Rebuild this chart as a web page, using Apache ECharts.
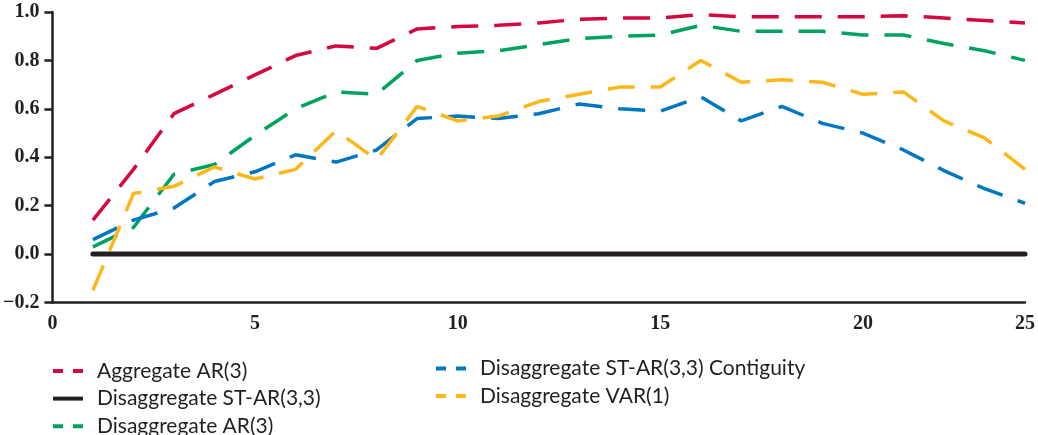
<!DOCTYPE html>
<html><head><meta charset="utf-8">
<script src="https://cdn.jsdelivr.net/npm/echarts@6/dist/echarts.min.js"></script>
<style>html,body{margin:0;padding:0;background:#fff}#c{width:1038px;height:435px}</style>
</head><body><div id="c"></div>
<script>
const steps = [1,2,3,4,5,6,7,8,9,10,11,12,13,14,15,16,17,18,19,20,21,22,23,24];
const aggregateAR3 = [0.14,0.35,0.58,0.66,0.74,0.82,0.86,0.85,0.93,0.94,0.945,0.955,0.97,0.975,0.975,0.99,0.98,0.98,0.98,0.98,0.985,0.975,0.965,0.955];
const disaggSTAR33 = [0,0,0,0,0,0,0,0,0,0,0,0,0,0,0,0,0,0,0,0,0,0,0,0];
const disaggAR3 = [0.03,0.11,0.33,0.37,0.49,0.60,0.67,0.66,0.80,0.83,0.84,0.865,0.89,0.90,0.905,0.945,0.92,0.92,0.92,0.905,0.905,0.87,0.84,0.80];
const disaggContig = [0.06,0.14,0.19,0.30,0.34,0.41,0.38,0.43,0.56,0.57,0.56,0.58,0.62,0.60,0.59,0.65,0.55,0.61,0.54,0.50,0.43,0.345,0.27,0.21];
const disaggVAR1 = [-0.15,0.25,0.28,0.36,0.31,0.35,0.51,0.39,0.61,0.55,0.57,0.63,0.66,0.69,0.69,0.80,0.71,0.72,0.71,0.66,0.67,0.55,0.48,0.35];
const seriesNames = ['Aggregate AR(3)','Disaggregate ST-AR(3,3)','Disaggregate AR(3)','Disaggregate ST-AR(3,3) Contiguity','Disaggregate VAR(1)'];
const xTickValues = [0,5,10,15,20,24];
const xTickLabels = ['0','5','10','15','20','25'];
const yTickLabels = ['\u22120.2','0.0','0.2','0.4','0.6','0.8','1.0'];

const colors = ['#D5073F','#231F20','#00A35E','#0078C1','#FDB719'];
const pairs = arr => steps.map((s,i)=>[s, arr[i]]);
const seriesData = [aggregateAR3, disaggSTAR33, disaggAR3, disaggContig, disaggVAR1];
const dash = [27,16];

const series = seriesData.map((arr,i)=>({
  name: seriesNames[i],
  type: 'line',
  data: pairs(arr),
  symbol: 'none',
  silent: true,
  z: i===1 ? 3 : 2,
  lineStyle: i===1
    ? {color: colors[i], width: 5, type: 'solid', cap: 'round'}
    : {color: colors[i], width: 3.5, type: dash, cap: 'butt'},
  itemStyle: {color: colors[i]}
}));

const dashIcon = 'path://M0 0H10V4H0ZM20 0H30V4H20Z';
const legendItem = i => ({
  name: seriesNames[i],
  icon: i===1 ? 'rect' : dashIcon
});
const legendText = {fontFamily: 'Lato', fontSize: 21, color: '#231F20', lineHeight: 20, padding: [0,0,0,9]};

const chart = echarts.init(document.getElementById('c'), null, {renderer: 'canvas'});
chart.setOption({
  animation: false,
  backgroundColor: '#fff',
  grid: {left: 52, right: 10, top: 12, bottom: 132.5, containLabel: false},
  xAxis: {
    type: 'value', min: 0, max: 24,
    axisLine: {show: true, onZero: false, lineStyle: {color: '#231F20', width: 2.5}},
    axisTick: {show: false},
    splitLine: {show: false},
    axisLabel: {
      customValues: xTickValues,
      margin: 11,
      fontFamily: 'Liberation Serif', fontWeight: 'bold', fontSize: 20, color: '#231F20',
      formatter: v => { const k = xTickValues.indexOf(v); return k >= 0 ? xTickLabels[k] : ''; }
    }
  },
  yAxis: {
    type: 'value', min: -0.2, max: 1.0, interval: 0.2,
    axisLine: {show: true, lineStyle: {color: '#231F20', width: 2.5}},
    axisTick: {show: true, length: 8, lineStyle: {color: '#231F20', width: 2.5}},
    splitLine: {show: false},
    axisLabel: {
      margin: 13,
      fontFamily: 'Liberation Serif', fontWeight: 'bold', fontSize: 20, color: '#231F20',
      formatter: v => yTickLabels[Math.round((v + 0.2) / 0.2)]
    }
  },
  legend: [
    {
      orient: 'vertical', left: 53, top: 360.5, width: 360, height: 100, padding: 0, itemWidth: 30, itemHeight: 4, itemGap: 6.6,
      data: [0,1,2].map(legendItem), textStyle: legendText, selectedMode: false
    },
    {
      orient: 'vertical', left: 436, top: 358, width: 500, height: 100, padding: 0, itemWidth: 30, itemHeight: 4, itemGap: 6.6,
      data: [3,4].map(legendItem), textStyle: legendText, selectedMode: false
    }
  ],
  series: series
});
</script></body></html>
